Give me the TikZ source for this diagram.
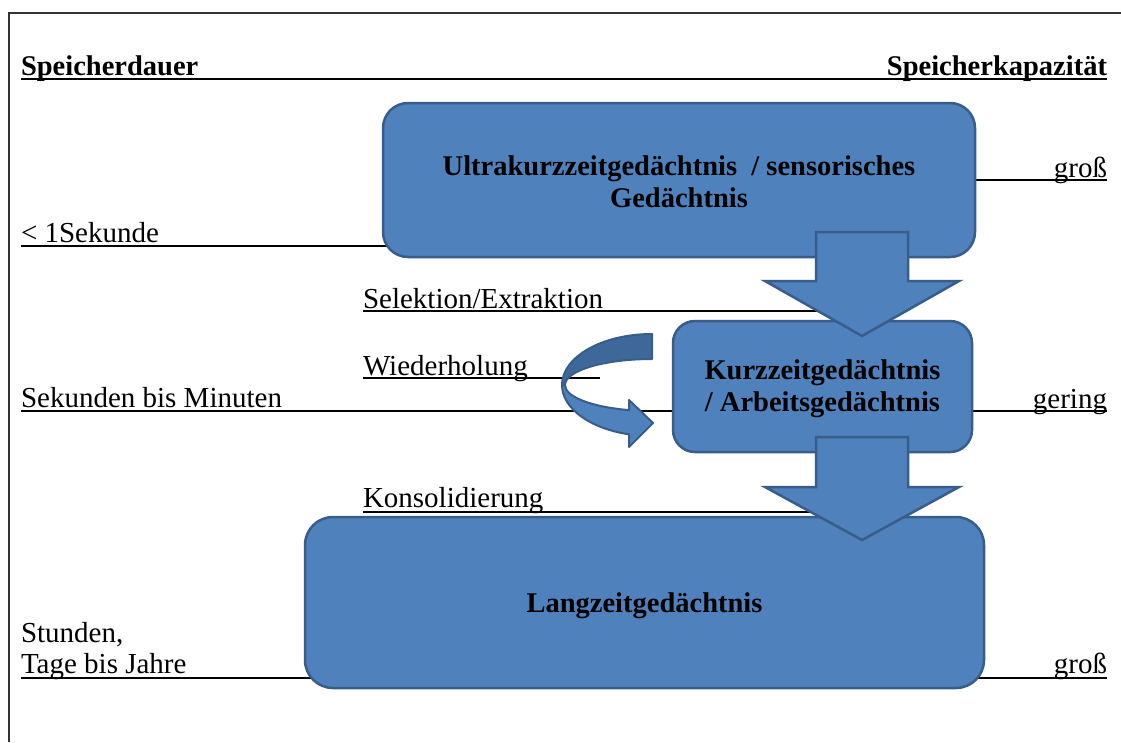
\documentclass[tikz,border=0pt]{standalone}
\usepackage{fontspec}
\setmainfont{Liberation Serif}
\usetikzlibrary{calc}
\definecolor{boxfill}{HTML}{4F81BD}
\definecolor{boxline}{HTML}{385D8A}
\definecolor{backfill}{HTML}{3D6899}
\newcommand\lblfont{\fontsize{29}{31}\selectfont}
\newcommand\boxfont{\fontsize{28.5}{32}\selectfont\bfseries}
\begin{document}
\begin{tikzpicture}[x=1pt,y=-1pt,
  membox/.style={draw=boxline, fill=boxfill, line width=2.5pt, rounded corners=#1,
    inner sep=0pt, outer sep=0pt, align=center, font=\boxfont},
  lbl/.style={inner sep=0pt, outer sep=0pt, font=\lblfont},
  hdr/.style={inner sep=0pt, outer sep=0pt, font=\boxfont},
  rule/.style={line width=1.4pt, black},
  blockarrow/.style={draw=boxline, fill=boxfill, line width=2.5pt, line join=miter},
  bendarrow/.style={draw=boxline, line width=2pt, line join=round},
]
\useasboundingbox (0,0) rectangle (1121,742);
\fill[white] (0,0) rectangle (1121,742);
% frame
\draw[line width=1.5pt, black!80] (9,742) -- (9,13) -- (1121,13);

% labels
\node[hdr, anchor=base west] (hdl) at (21,75) {Speicherdauer};
\node[hdr, anchor=base east] (hdr) at (1107,75) {Speicherkapazität};
\node[lbl, anchor=base east] (gross1) at (1107,177) {groß};
\node[lbl, anchor=base west] (sek) at (21,242) {< 1Sekunde};
\node[lbl, anchor=base west] (sel) at (363,308) {Selektion/Extraktion};
\node[lbl, anchor=base west] (wdh) at (363,375) {Wiederholung};
\node[lbl, anchor=base west] (min) at (21,407) {Sekunden bis Minuten};
\node[lbl, anchor=base east] (gering) at (1107,408) {gering};
\node[lbl, anchor=base west] (kons) at (363,507) {Konsolidierung};
\node[lbl, anchor=base west] (std) at (21,642) {Stunden,};
\node[lbl, anchor=base west] (tage) at (21,673) {Tage bis Jahre};
\node[lbl, anchor=base east] (gross2) at (1107,673) {groß};

% rules
\draw[rule] (21,79) -- (1107,79);
\draw[rule] (975,180) -- (1107,180);
\draw[rule] (21,246) -- (390,246);
\draw[rule] (363,311) -- (862,311);
\draw[rule] (363,378) -- (600,378);
\draw[rule] (21,411) -- (680,411);
\draw[rule] (965,411) -- (1107,411);
\draw[rule] (363,512) -- (862,512);
\draw[rule] (21,678) -- (315,678);
\draw[rule] (975,678) -- (1107,678);

% boxes
\node[membox=25pt, minimum width=592pt, minimum height=154pt] (b1) at (679,180)
  {\rule{0pt}{23pt}Ultrakurzzeitgedächtnis\ \ / sensorisches\\Gedächtnis};
\node[membox=22pt, minimum width=299pt, minimum height=131pt] (b2) at (822.5,386.5)
  {\rule{0pt}{24pt}Kurzzeitgedächtnis\\/ Arbeitsgedächtnis};
\node[membox=28pt, minimum width=679pt, minimum height=171pt] (b3) at (644.5,602.5)
  {\rule{0pt}{27pt}Langzeitgedächtnis};

% block arrows
\coordinate (a1) at (862,232);
\coordinate (a2) at (862,437);
\draw[blockarrow] (a1) ++(-46,0) -- ++(92,0) -- ++(0,49) -- ++(51,0) -- ++(-97,55)
  -- ++(-97,-55) -- ++(51,0) -- cycle;
\draw[blockarrow] (a2) ++(-46,0) -- ++(92,0) -- ++(0,50) -- ++(51,0) -- ++(-97,53)
  -- ++(-97,-53) -- ++(51,0) -- cycle;

% curved arrow (Wiederholung)
\coordinate (ca) at (652,385);
\filldraw[bendarrow, fill=backfill] (ca) ++(270:90 and 51)
  arc[start angle=270, end angle=180, x radius=90, y radius=51] -- ++(3,0)
  arc[start angle=180, end angle=270, x radius=87, y radius=26] -- cycle;
\filldraw[bendarrow, fill=boxfill] (ca) ++(180:90 and 51)
  arc[start angle=180, end angle=104.8, x radius=90, y radius=51]
  -- (629,447) -- (653,423) -- (629,400) -- ($(ca)+(105.3:87 and 26)$)
  arc[start angle=105.3, end angle=180, x radius=87, y radius=26] -- cycle;
\end{tikzpicture}
\end{document}
